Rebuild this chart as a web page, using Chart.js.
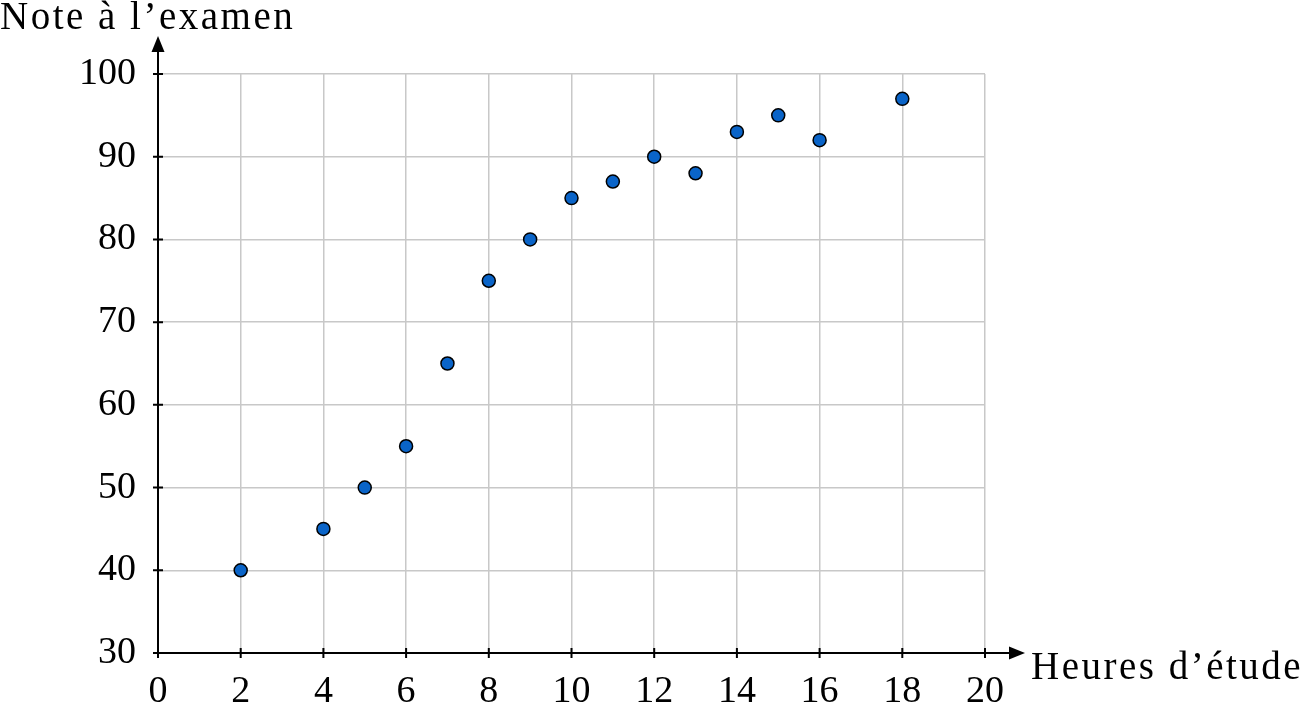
<!DOCTYPE html>
<html>
<head>
<meta charset="utf-8">
<script src="https://cdn.jsdelivr.net/npm/chart.js@4"></script>
<style>
  html, body { margin: 0; padding: 0; background: #fff; }
  #wrap { width: 1302px; height: 707px; }
</style>
</head>
<body>
<div id="wrap"><canvas id="scatterChart" width="1302" height="707"></canvas></div>
<script>
// Heures d'étude vs note
const hours = [2, 4, 5, 6, 7, 8, 9, 10, 11, 12, 13, 14, 15, 16, 18];
const grades = [40, 45, 50, 55, 65, 75, 80, 85, 87, 90, 88, 93, 95, 92, 97];
const xTicks = [0, 2, 4, 6, 8, 10, 12, 14, 16, 18, 20];
const yTicks = [30, 40, 50, 60, 70, 80, 90, 100];
const xTitle = 'Heures d’étude';
const yTitle = 'Note à l’examen';

const FONT = '"Liberation Serif", "DejaVu Serif", serif';

// axes with arrows, ticks crossing the axis, and axis titles
const axisPlugin = {
  id: 'axisPlugin',
  afterDatasetsDraw(chart) {
    const ctx = chart.ctx;
    const xs = chart.scales.x;
    const ys = chart.scales.y;
    const x0 = xs.getPixelForValue(0);
    const y0 = ys.getPixelForValue(30);
    const xEnd = xs.getPixelForValue(20) + 40;
    const yEnd = ys.getPixelForValue(100) - 38;

    ctx.save();
    ctx.strokeStyle = '#000';
    ctx.fillStyle = '#000';
    ctx.lineWidth = 2;
    ctx.beginPath();
    ctx.moveTo(x0, y0);
    ctx.lineTo(xEnd - 10, y0);
    ctx.moveTo(x0, y0);
    ctx.lineTo(x0, yEnd + 10);
    ctx.stroke();

    // arrow heads
    ctx.beginPath();
    ctx.moveTo(xEnd, y0);
    ctx.lineTo(xEnd - 16, y0 - 6.5);
    ctx.lineTo(xEnd - 16, y0 + 6.5);
    ctx.closePath();
    ctx.fill();
    ctx.beginPath();
    ctx.moveTo(x0, yEnd);
    ctx.lineTo(x0 - 6.5, yEnd + 16);
    ctx.lineTo(x0 + 6.5, yEnd + 16);
    ctx.closePath();
    ctx.fill();

    // tick marks
    ctx.lineWidth = 2;
    ctx.beginPath();
    xTicks.forEach(v => {
      const px = xs.getPixelForValue(v);
      ctx.moveTo(px, y0 - 5);
      ctx.lineTo(px, y0 + 5);
    });
    yTicks.forEach(v => {
      const py = ys.getPixelForValue(v);
      ctx.moveTo(x0 - 5, py);
      ctx.lineTo(x0 + 5, py);
    });
    ctx.stroke();

    // titles (wider serif, like the original)
    ctx.font = '39px ' + FONT;
    ctx.letterSpacing = '2.5px';
    ctx.textBaseline = 'alphabetic';
    ctx.textAlign = 'left';
    ctx.fillText(yTitle, 0, 29);
    ctx.fillText(xTitle, xEnd + 6, y0 + 26);
    ctx.restore();
  }
};

const ctx = document.getElementById('scatterChart').getContext('2d');
const chart = new Chart(ctx, {
  type: 'scatter',
  data: {
    datasets: [{
      data: hours.map((h, i) => ({ x: h, y: grades[i] })),
      backgroundColor: '#0a64c8',
      borderColor: '#000',
      borderWidth: 1.5,
      pointRadius: 6.5,
      pointHoverRadius: 6.5
    }]
  },
  options: {
    responsive: false,
    animation: false,
    layout: { padding: { left: 0, top: 74, right: 317, bottom: 0 } },
    plugins: { legend: { display: false }, tooltip: { enabled: false } },
    scales: {
      x: {
        type: 'linear',
        min: 0,
        max: 20,
        afterBuildTicks: (scale) => { scale.ticks = xTicks.map(v => ({ value: v })); },
        afterFit: (scale) => { scale.height = 54; },
        grid: { color: '#c8c8c8', lineWidth: 1.5, drawTicks: false },
        border: { display: false },
        ticks: { color: '#000', padding: 16, font: { family: FONT, size: 38 } }
      },
      y: {
        type: 'linear',
        min: 30,
        max: 100,
        afterBuildTicks: (scale) => { scale.ticks = yTicks.map(v => ({ value: v })); },
        afterFit: (scale) => { scale.width = 158; },
        grid: { color: '#c8c8c8', lineWidth: 1.5, drawTicks: false },
        border: { display: false },
        ticks: { color: '#000', padding: 22, font: { family: FONT, size: 38 } }
      }
    }
  },
  plugins: [axisPlugin]
});
</script>
</body>
</html>
